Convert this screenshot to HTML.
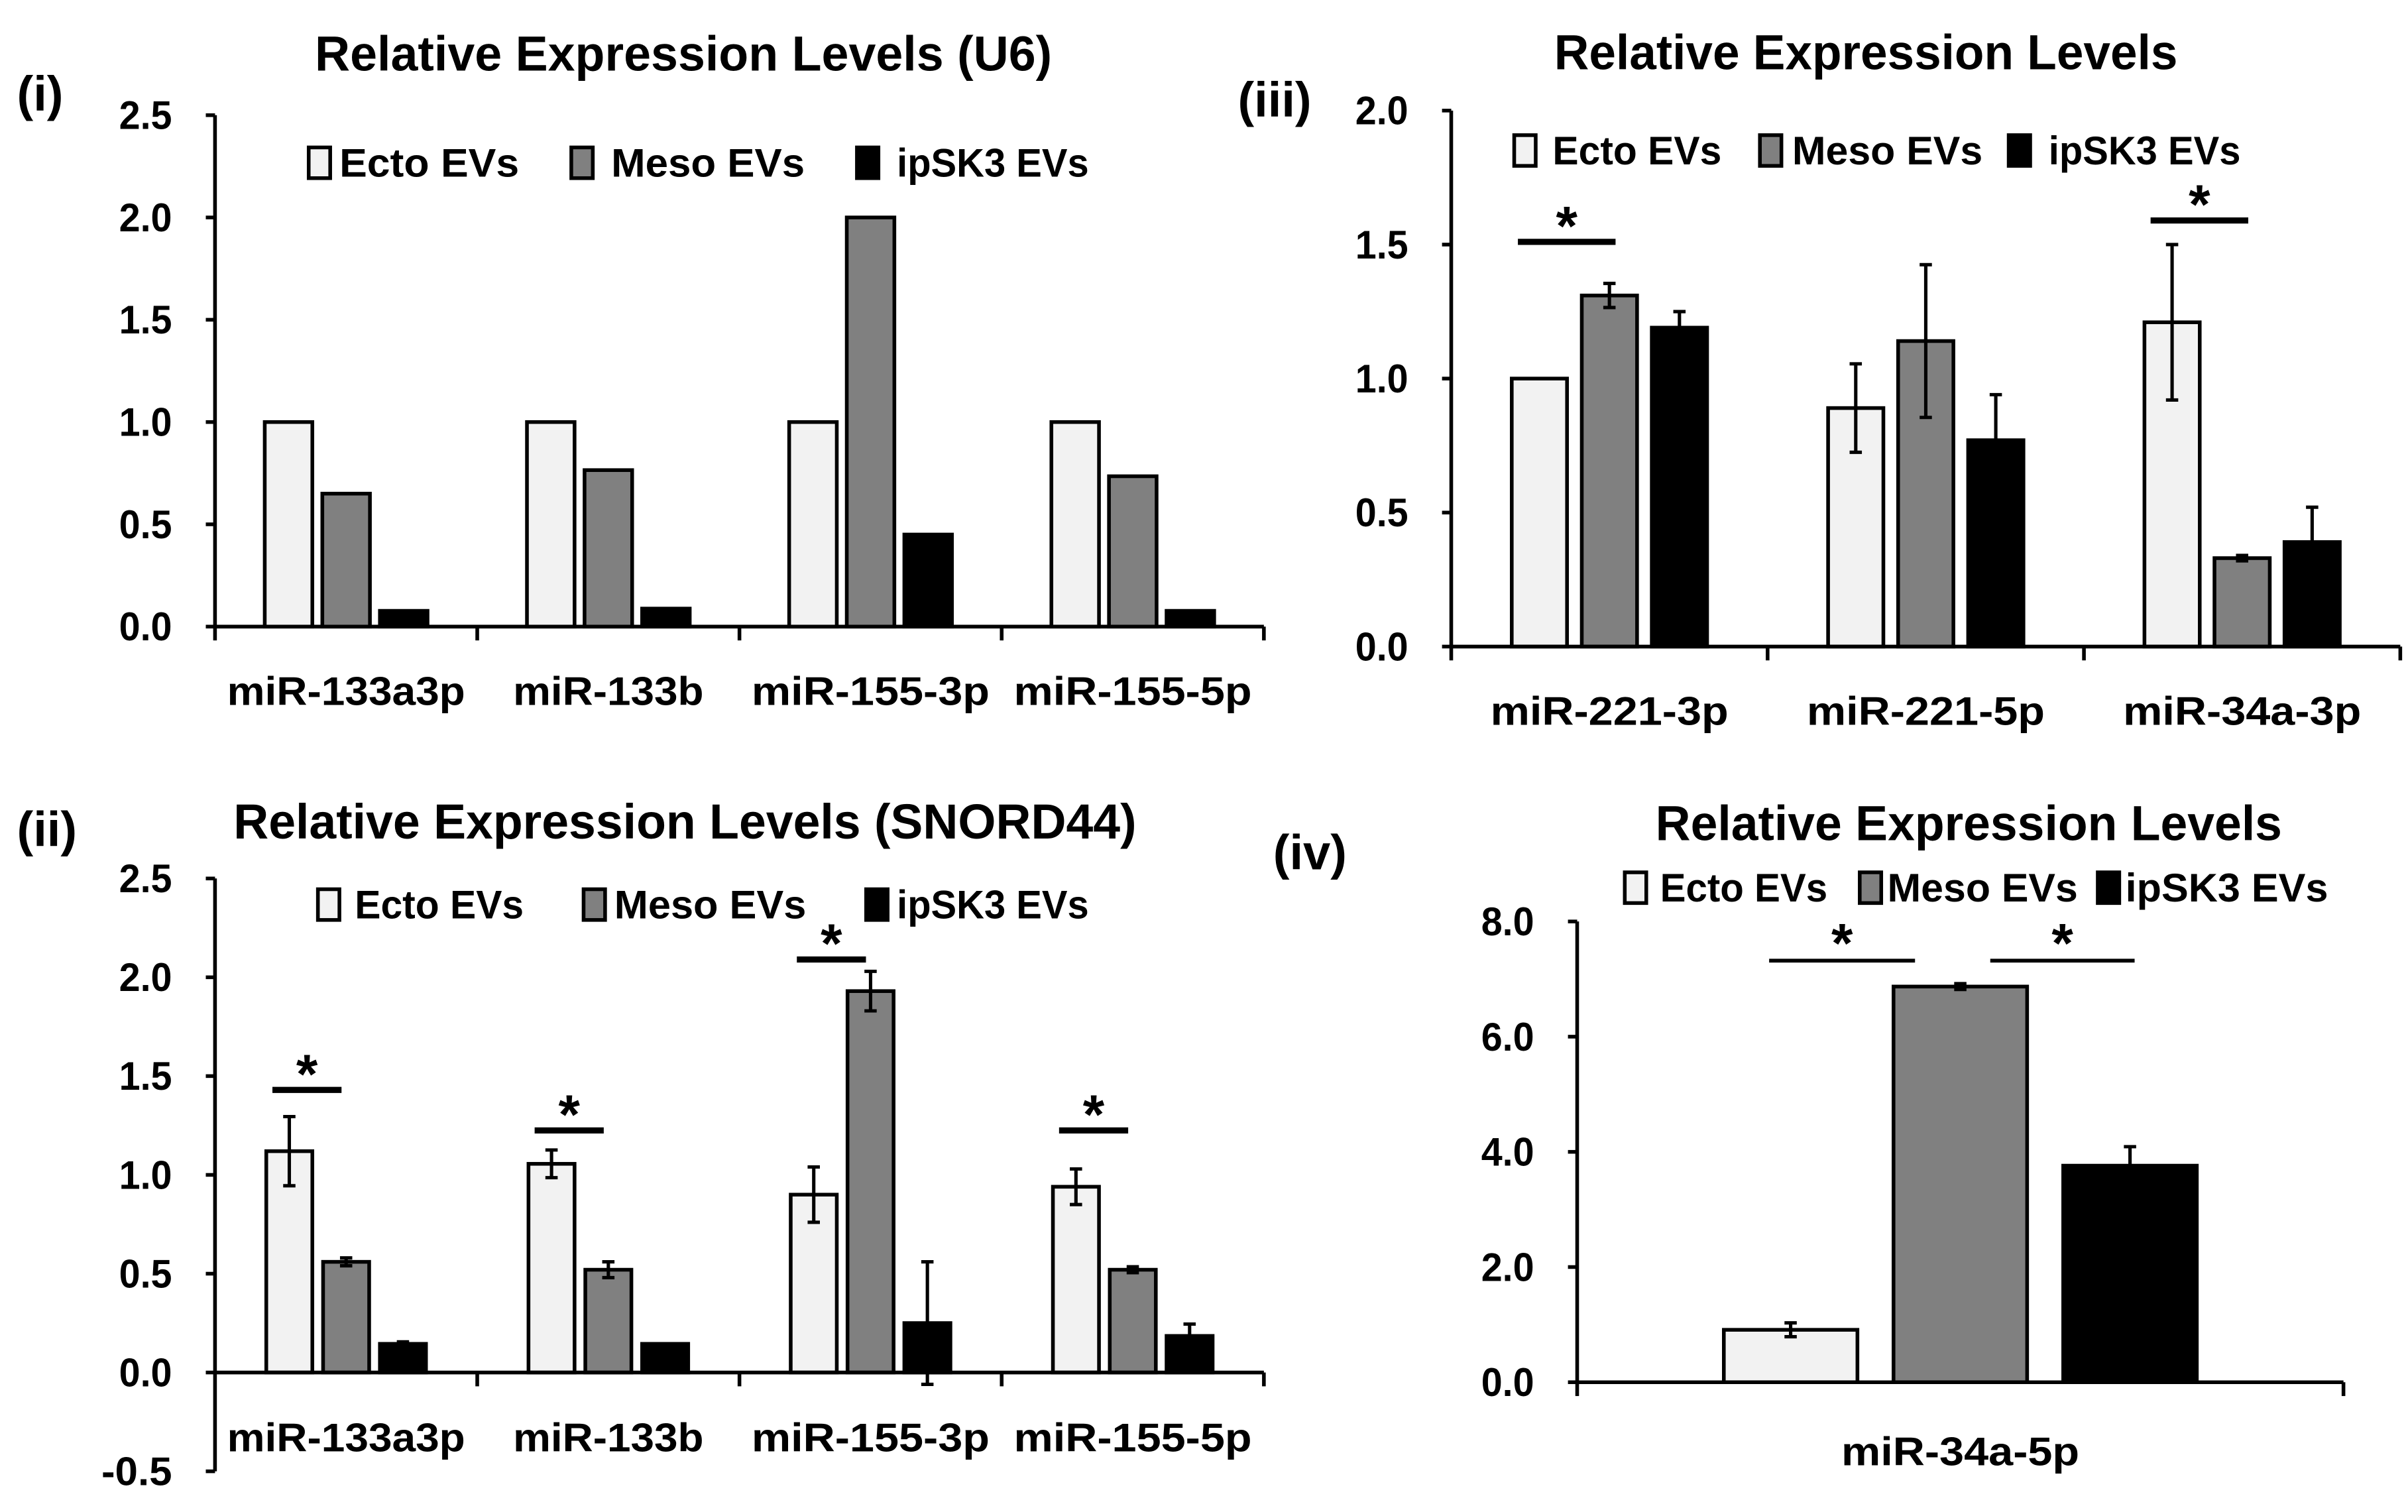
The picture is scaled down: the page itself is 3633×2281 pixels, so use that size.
<!DOCTYPE html>
<html><head><meta charset="utf-8"><style>
html,body{margin:0;padding:0;background:#fff;}
svg{display:block;}
text{font-family:"Liberation Sans",sans-serif;font-weight:bold;fill:#000;}
</style></head><body>
<svg id="fig" xmlns="http://www.w3.org/2000/svg" width="3633" height="2281" viewBox="0 0 1568 984.5"></svg>
<script>
// ---- Panel (i) data ----
const p1Categories = ["miR-133a3p","miR-133b","miR-155-3p","miR-155-5p"];
const p1Ecto = [1.0, 1.0, 1.0, 1.0];
const p1Meso = [0.65, 0.765, 2.0, 0.735];
const p1Ip = [0.077, 0.088, 0.45, 0.077];
const p1Ticks = ["0.0","0.5","1.0","1.5","2.0","2.5"];
const p1TickValues = [0, 0.5, 1.0, 1.5, 2.0, 2.5];
// ---- Panel (iii) data ----
const p3Categories = ["miR-221-3p","miR-221-5p","miR-34a-3p"];
const p3Ecto = [1.0, 0.89, 1.21];
const p3Meso = [1.31, 1.14, 0.33];
const p3Ip = [1.19, 0.77, 0.39];
const p3EctoErr = [0, 0.165, 0.29];
const p3MesoErr = [0.045, 0.285, 0.01];
const p3IpErr = [0.06, 0.17, 0.13];
const p3Stars = [[0, 1.51], [2, 1.59]];
const p3Ticks = ["0.0","0.5","1.0","1.5","2.0"];
const p3TickValues = [0, 0.5, 1.0, 1.5, 2.0];
// ---- Panel (ii) data ----
const p2Categories = ["miR-133a3p","miR-133b","miR-155-3p","miR-155-5p"];
const p2Ecto = [1.12, 1.056, 0.90, 0.94];
const p2Meso = [0.56, 0.52, 1.93, 0.52];
const p2Ip = [0.145, 0.145, 0.25, 0.185];
const p2EctoErr = [0.175, 0.07, 0.14, 0.09];
const p2MesoErr = [0.02, 0.04, 0.1, 0.015];
const p2IpErr = [0.01, 0, 0.31, 0.06];
const p2Stars = [[0, 1.43], [1, 1.225], [2, 2.09], [3, 1.225]];
const p2Ticks = ["-0.5","0.0","0.5","1.0","1.5","2.0","2.5"];
const p2TickValues = [-0.5, 0, 0.5, 1.0, 1.5, 2.0, 2.5];
// ---- Panel (iv) data ----
const p4Categories = ["miR-34a-5p"];
const p4Ecto = [0.91];
const p4Meso = [6.87];
const p4Ip = [3.76];
const p4EctoErr = [0.12];
const p4MesoErr = [0.05];
const p4IpErr = [0.33];
const p4Ticks = ["0.0","2.0","4.0","6.0","8.0"];
const p4TickValues = [0, 2, 4, 6, 8];

const NS = "http://www.w3.org/2000/svg";
const svg = document.getElementById("fig");
const COLORS = ["#f2f2f2", "#808080", "#000000"];
const SERIES = ["Ecto EVs", "Meso EVs", "ipSK3 EVs"];

function mk(tag, attrs, parent) {
  const e = document.createElementNS(NS, tag);
  for (const k in attrs) e.setAttribute(k, attrs[k]);
  (parent || svg).appendChild(e);
  return e;
}
function txt(s, x, y, size, anchor, len, parent) {
  const t = mk("text", {x: x, y: y, "font-size": size, "text-anchor": anchor || "start"}, parent);
  if (len) { t.setAttribute("textLength", len); t.setAttribute("lengthAdjust", "spacingAndGlyphs"); }
  t.textContent = s;
  return t;
}

function panel(cfg) {
  const g = mk("g", {});
  
  
  const y = v => cfg.y0 - (v - cfg.vmin) / (cfg.vmax - cfg.vmin) * (cfg.y0 - cfg.y1);
  const zeroY = y(0);
  const n = cfg.cats.length;
  const cw = (cfg.xEnd - cfg.x0) / n;
  const xc = i => cfg.x0 + cw * (i + 0.5);

  const tt = txt(cfg.title, cfg.titleX, cfg.titleY, 32, "middle", cfg.titleLen, g);
  
  
  const pl = txt(cfg.label, cfg.labelX, cfg.labelY, 32, "start", null, g);
  
  

  const vals = [cfg.ecto, cfg.meso, cfg.ip];
  const errs = [cfg.ectoErr, cfg.mesoErr, cfg.ipErr];
  for (let i = 0; i < n; i++) {
    for (let s = 0; s < 3; s++) {
      const bx = xc(i) + (s - 1) * cfg.stride - cfg.bw / 2;
      const v = vals[s][i];
      const top = y(Math.max(v, 0)), bot = y(Math.min(v, 0));
      const r = mk("rect", {x: bx, y: top, width: cfg.bw, height: Math.max(bot - top, 0.5),
        fill: COLORS[s], stroke: "#000", "stroke-width": 2.4}, g);
      
      
      const e = errs[s] ? errs[s][i] : 0;
      if (e > 0) {
        const cx = bx + cfg.bw / 2, cap = 4;
        const eb = mk("path", {d: `M${cx},${y(v - e)}V${y(v + e)}M${cx - cap},${y(v + e)}H${cx + cap}M${cx - cap},${y(v - e)}H${cx + cap}`,
          stroke: "#000", "stroke-width": 2.2, fill: "none"}, g);
        
        
      }
    }
  }

  const ya = mk("line", {x1: cfg.x0, y1: y(cfg.vmax), x2: cfg.x0, y2: y(cfg.vmin), stroke: "#000", "stroke-width": 2.4}, g);
  
  
  cfg.tickValues.forEach((tv, k) => {
    mk("line", {x1: cfg.x0 - 6, y1: y(tv), x2: cfg.x0, y2: y(tv), stroke: "#000", "stroke-width": 2.4}, g);
    const lab = cfg.ticks[k];
    const tl = txt(lab, cfg.x0 - 28, y(tv) + 9, 26, "end", lab.length * 11.5, g);
    
    
  });
  const xa = mk("line", {x1: cfg.x0, y1: zeroY, x2: cfg.xEnd, y2: zeroY, stroke: "#000", "stroke-width": 2.4}, g);
  
  
  for (let i = 0; i <= n; i++) {
    if (i === 0 && cfg.vmin < 0) continue;
    mk("line", {x1: cfg.x0 + cw * i, y1: zeroY, x2: cfg.x0 + cw * i, y2: zeroY + 9, stroke: "#000", "stroke-width": 2.4}, g);
  }
  cfg.cats.forEach((c, i) => {
    const cl = txt(c, xc(i), cfg.catY, 26, "middle", c.length * 15.5, g);
    
    
  });

  (cfg.stars || []).forEach(st => {
    const i = st[0], v = st[1];
    const xa1 = xc(i) - cfg.stride - cfg.bw / 2 + 4;
    const xa2 = xc(i) + cfg.bw / 2 - 4 - (cfg.starShrink || 0);
    const ln = mk("line", {x1: xa1, y1: y(v), x2: xa2, y2: y(v), stroke: "#000", "stroke-width": 4}, g);
    
    
    const s = txt("*", (xa1 + xa2) / 2, y(v) + 2, 36, "middle", null, g);
    
    
  });

  cfg.legend.forEach((L, s) => {
    const lg = mk("g", {}, g);
    
    
    mk("rect", {x: L[0], y: cfg.legY - 10, width: 14, height: 20, fill: COLORS[s], stroke: "#000", "stroke-width": 2.4}, lg);
    txt(SERIES[s], L[1], cfg.legY + 9, 26, "start", L[2], lg);
  });
}

panel({name: "panel-i-u6", title: "Relative Expression Levels (U6)", titleX: 445, titleY: 46, titleLen: 480,
  label: "(i)", labelX: 11, labelY: 72,
  cats: p1Categories, ecto: p1Ecto, meso: p1Meso, ip: p1Ip, ectoErr: null, mesoErr: null, ipErr: null,
  ticks: p1Ticks, tickValues: p1TickValues, vmin: 0, vmax: 2.5, y0: 408, y1: 75,
  x0: 140, xEnd: 823, bw: 31, stride: 37.5, catY: 459,
  legY: 106, legend: [[201, 221, 117], [372, 398, 126], [558, 584, 125]]});

panel({name: "panel-iii", title: "Relative Expression Levels", titleX: 1215, titleY: 45, titleLen: 406,
  label: "(iii)", labelX: 806, labelY: 76,
  cats: p3Categories, ecto: p3Ecto, meso: p3Meso, ip: p3Ip, ectoErr: p3EctoErr, mesoErr: p3MesoErr, ipErr: p3IpErr,
  stars: p3Stars, ticks: p3Ticks, tickValues: p3TickValues, vmin: 0, vmax: 2.0, y0: 421, y1: 72,
  x0: 945, xEnd: 1563, bw: 36, stride: 45.6, catY: 472, starShrink: 10,
  legY: 98, legend: [[986, 1011, 110], [1146, 1167, 124], [1308, 1334, 125]]});

panel({name: "panel-ii-snord44", title: "Relative Expression Levels (SNORD44)", titleX: 446, titleY: 546, titleLen: 588,
  label: "(ii)", labelX: 11, labelY: 551,
  cats: p2Categories, ecto: p2Ecto, meso: p2Meso, ip: p2Ip, ectoErr: p2EctoErr, mesoErr: p2MesoErr, ipErr: p2IpErr,
  stars: p2Stars, ticks: p2Ticks, tickValues: p2TickValues, vmin: -0.5, vmax: 2.5, y0: 958, y1: 572,
  x0: 140, xEnd: 823, bw: 30, stride: 37, catY: 945, starShrink: 14,
  legY: 589, legend: [[207, 231, 110], [380, 400, 125], [564, 584, 125]]});

panel({name: "panel-iv", title: "Relative Expression Levels", titleX: 1282, titleY: 547, titleLen: 408,
  label: "(iv)", labelX: 829, labelY: 566,
  cats: p4Categories, ecto: p4Ecto, meso: p4Meso, ip: p4Ip, ectoErr: p4EctoErr, mesoErr: p4MesoErr, ipErr: p4IpErr,
  ticks: p4Ticks, tickValues: p4TickValues, vmin: 0, vmax: 8, y0: 900, y1: 600,
  x0: 1027, xEnd: 1526, bw: 87, stride: 110.5, catY: 954,
  legY: 578, legend: [[1058, 1081, 109], [1211, 1229, 124], [1366, 1384, 132]]});

(function () {
  const y = v => 900 - v / 8 * 300;
  const pairs = [[1152, 1247], [1296, 1390]];
  const starV = 7.32;
  pairs.forEach(p => {
    const ln = mk("line", {x1: p[0], y1: y(starV), x2: p[1], y2: y(starV), stroke: "#000", "stroke-width": 2.5});
    
    
    const s = txt("*", (p[0] + p[1]) / 2, y(starV) + 1, 36, "middle");
    
    
  });
})();
</script>
</body></html>
